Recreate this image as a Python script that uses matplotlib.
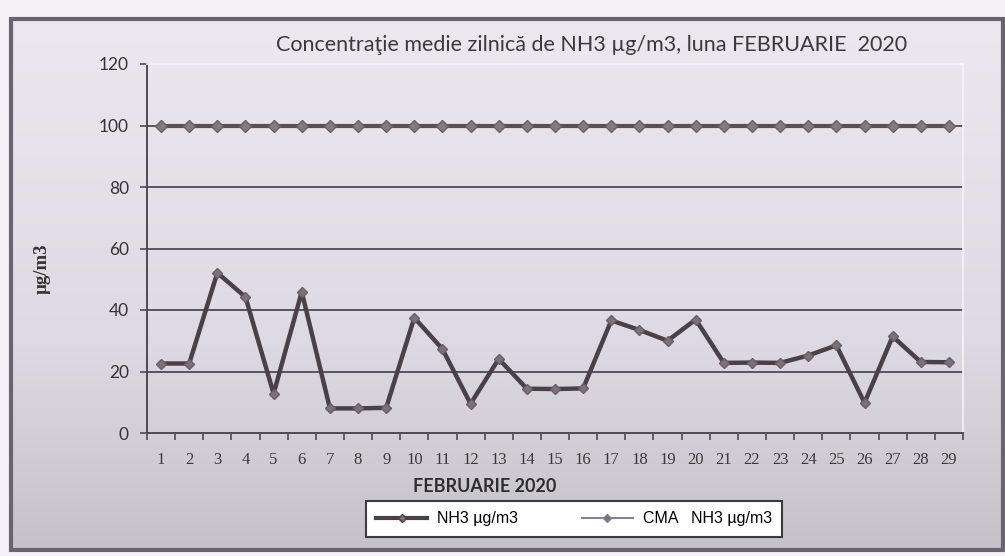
import numpy as np
import matplotlib
matplotlib.use("Agg")
import matplotlib.pyplot as plt
from matplotlib.colors import LinearSegmentedColormap
from matplotlib.lines import Line2D
from matplotlib.patches import Rectangle

# --------------------------
# Donnees
# --------------------------
zile = list(range(1, 30))
nh3 = [22.6, 22.6, 52.1, 44.2, 12.8, 45.9, 8.0, 8.0, 8.2, 37.5,
       27.3, 9.5, 24.1, 14.4, 14.3, 14.5, 36.6, 33.5, 30.0, 36.9,
       22.8, 22.9, 22.8, 25.2, 28.5, 9.8, 31.4, 23.1, 23.0]
cma = [100] * 29
y_ticks = [0, 20, 40, 60, 80, 100, 120]

titlu = "Concentraţie medie zilnică de NH3 µg/m3, luna FEBRUARIE  2020"
eticheta_x = "FEBRUARIE 2020"
eticheta_y = "µg/m3"
leg_nh3 = "NH3 µg/m3"
leg_cma = "CMA   NH3 µg/m3"

W, H = 1005, 556
fig = plt.figure(figsize=(W / 100, H / 100), dpi=100)
fig.patch.set_facecolor("#f5f3f7")

# --------------------------
# Fond (cadre + degrade)
# --------------------------
bg = fig.add_axes([0, 0, 1, 1], zorder=-5)
bg.axis("off")
cmap = LinearSegmentedColormap.from_list(
    "fond", [(0, "#ece8f0"), (0.6, "#dedae3"), (1, "#c4c2c8")])
grad = np.linspace(0, 1, 256).reshape(-1, 1)
x0, x1, y0, y1 = 11, 1003, 19, 550
bg.imshow(grad, cmap=cmap, aspect="auto", extent=(x0, x1, y1, y0))
bg.add_patch(Rectangle((x0, y0), x1 - x0, y1 - y0, fill=False,
                       edgecolor="#6a6470", linewidth=3))
bg.set_xlim(0, W)
bg.set_ylim(H, 0)

# --------------------------
# Graphique
# --------------------------
left, right, top, bottom = 147, 963, 64, 433
ax = fig.add_axes([left / W, 1 - bottom / H, (right - left) / W, (bottom - top) / H])
ax.patch.set_alpha(0)

ax.set_ylim(0, 120)
ax.set_xlim(0.5, 29.5)
ax.set_yticks(y_ticks)
for v in y_ticks[1:-1]:
    ax.axhline(v, color="#4e4a52", linewidth=1.3, zorder=1)

ax.plot(zile, cma, color="#5a4e58", linewidth=3, marker="D", markersize=6,
        markerfacecolor="#857880", markeredgecolor="#6a5e68", zorder=3)
ax.plot(zile, nh3, color="#4b4048", linewidth=3.2, marker="D", markersize=5,
        markerfacecolor="#7d7078", markeredgecolor="#6a5e68", zorder=4)

ax.set_xticks(zile)
ax.set_xticklabels([str(z) for z in zile], family="Liberation Serif", fontsize=12,
                   color="#3a3a3a")
ax.set_xticks(np.arange(0.5, 30, 1), minor=True)
ax.tick_params(axis="x", which="major", length=0, pad=14)
ax.tick_params(axis="x", which="minor", length=5, width=1.2, color="#4e4a52")
ax.tick_params(axis="y", length=5, width=1.2, color="#4e4a52", pad=8,
               labelsize=12.5, labelcolor="#333333")
for lab in ax.get_yticklabels():
    lab.set_family("Lato")

for s in ("left", "bottom"):
    ax.spines[s].set_color("#4e4a52")
    ax.spines[s].set_linewidth(1.4)
for s in ("top", "right"):
    ax.spines[s].set_color("#f6f4f8")
    ax.spines[s].set_linewidth(1.2)

fig.text(592 / W, 1 - 45 / H, titlu, ha="center", va="center",
         family="Lato", fontsize=15.5, color="#3a3a3a")
fig.text(485 / W, 1 - 486 / H, eticheta_x, ha="center", va="center",
         family="Lato", fontweight="bold", fontsize=13, color="#2e2e2e")
fig.text(42 / W, 1 - 269 / H, eticheta_y, ha="center", va="center", rotation=90,
         family="Liberation Serif", fontweight="bold", fontsize=13.5, color="#333333")

handles = [
    Line2D([], [], color="#4b4048", linewidth=3, marker="D", markersize=4,
           markerfacecolor="#7d7078"),
    Line2D([], [], color="#8a8090", linewidth=1.5, marker="D", markersize=4,
           markerfacecolor="#7d7078"),
]
leg = fig.legend(handles, [leg_nh3, leg_cma], ncol=2, loc="center",
                 bbox_to_anchor=(574 / W, 1 - 519 / H),
                 prop={"family": ["Liberation Sans Narrow", "Liberation Sans"], "size": 11.5},
                 frameon=True, fancybox=False, handlelength=3.2, handletextpad=0.6,
                 columnspacing=4.0, borderpad=0.65, borderaxespad=0)
leg.get_frame().set_edgecolor("#3e3a42")
leg.get_frame().set_linewidth(1.5)
leg.get_frame().set_facecolor("#ffffff")
leg.get_frame().set_alpha(1)

fig.savefig("out.png", dpi=100)
